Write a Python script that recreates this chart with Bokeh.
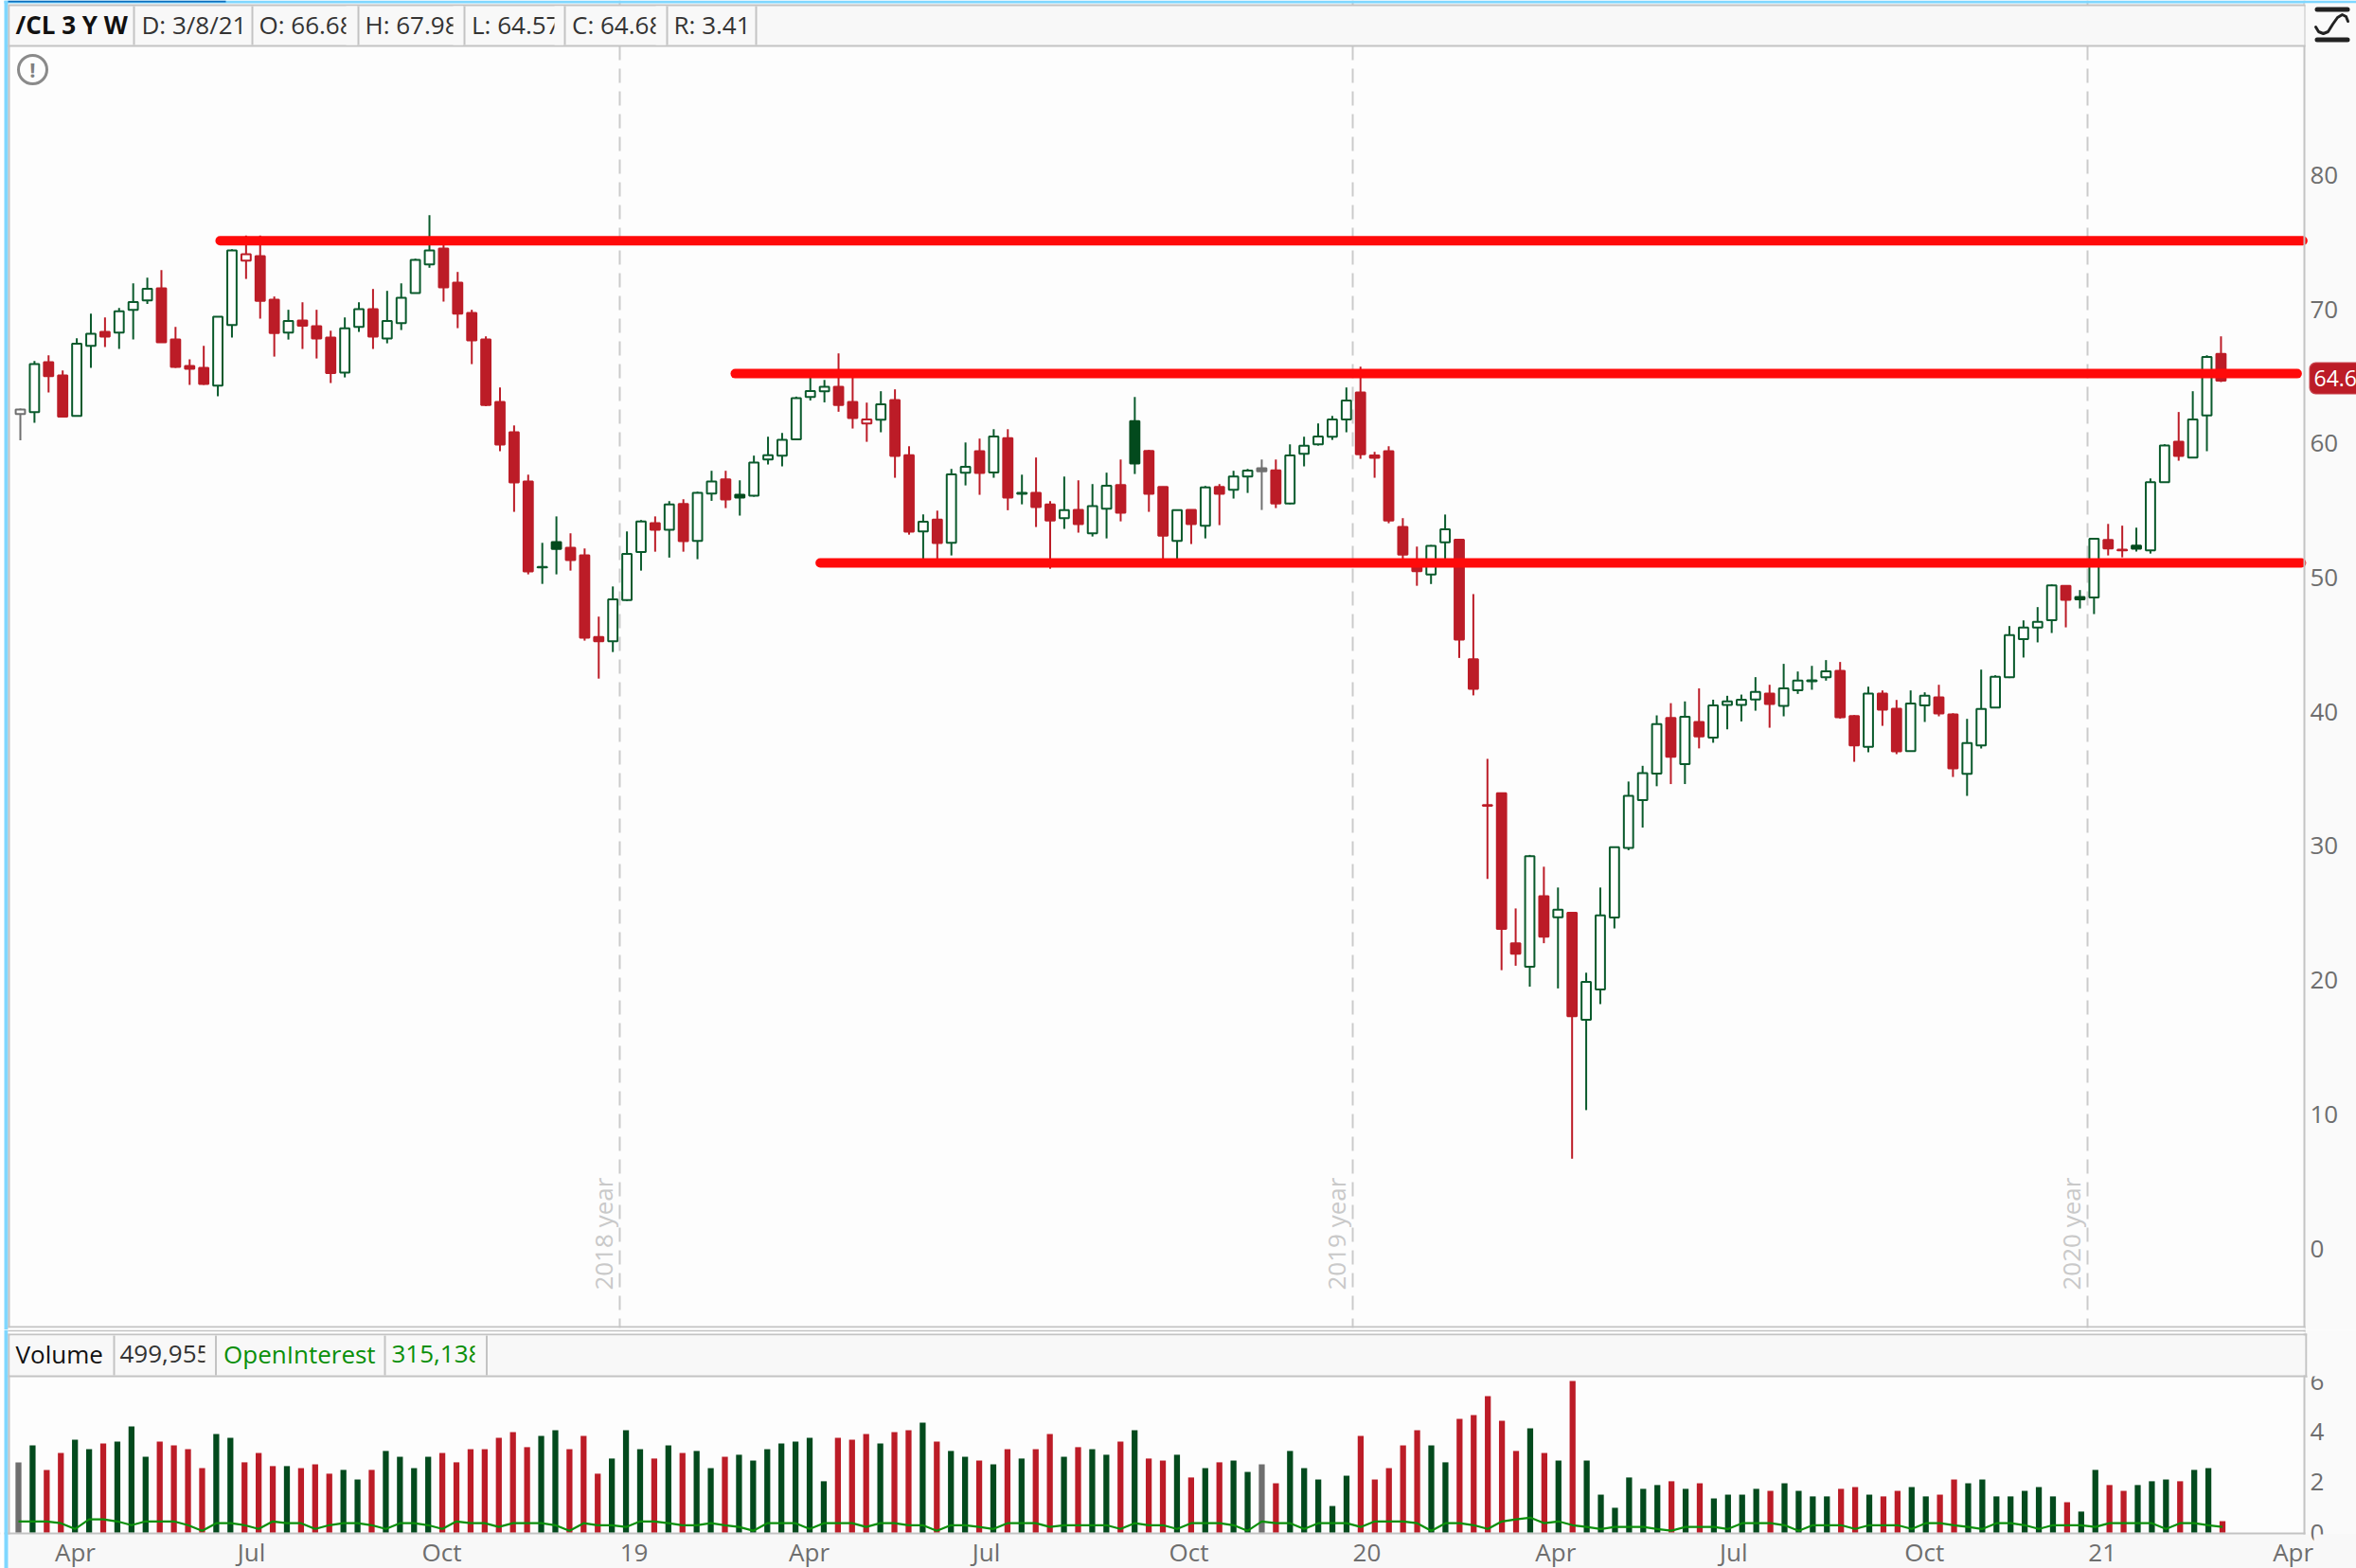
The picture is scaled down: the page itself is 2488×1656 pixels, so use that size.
from bokeh.plotting import figure
from bokeh.layouts import column
from bokeh.embed import file_html
from bokeh.resources import INLINE
from bokeh.models import (BoxAnnotation, ColumnDataSource, FixedTicker, Label, LinearAxis,
                          Range1d, Span)

# ---------- data (weekly /CL) ----------
high = [62.59,66.14,66.57,65.44,67.84,69.67,69.39,70.10,71.93,72.36,
        72.92,68.69,66.26,67.27,69.44,74.47,75.49,75.49,70.95,69.96,
        70.52,69.96,68.40,69.39,70.52,71.51,71.37,71.93,73.77,77.02,
        74.78,72.78,69.96,67.98,64.17,61.34,57.67,52.59,54.56,53.30,
        52.17,47.09,49.34,53.44,54.29,54.56,55.70,55.84,56.40,57.96,
        57.96,57.25,59.09,60.50,60.78,63.49,65.00,64.73,66.71,65.25,
        63.04,63.89,64.03,59.79,54.71,54.99,58.10,60.07,60.36,61.06,
        61.06,57.67,58.95,55.70,57.53,57.25,56.97,57.82,58.80,63.46,
        59.51,56.78,55.04,55.04,56.83,56.97,57.96,58.10,58.80,58.80,
        59.93,60.50,61.49,62.05,64.17,65.72,59.37,59.79,54.43,52.31,
        52.43,54.70,52.82,48.77,36.49,33.96,25.34,29.33,28.45,26.90,
        25.05,20.55,26.90,29.94,34.80,35.97,39.73,40.64,40.77,41.74,
        40.90,41.19,41.28,42.58,42.01,43.57,43.00,43.42,43.85,43.71,
        39.75,41.87,41.59,40.88,41.59,41.45,42.01,39.89,39.47,43.14,
        42.72,46.39,46.81,47.80,49.49,49.42,49.07,52.90,54.00,53.87,
        53.72,57.39,59.94,62.34,63.89,66.57,67.98]
body_top = [62.52,65.91,66.05,65.06,67.44,68.17,68.31,69.84,70.54,71.53,
            71.56,67.74,65.77,65.63,69.44,74.38,74.10,73.96,70.71,69.13,
            69.16,68.73,67.89,68.57,70.00,70.00,69.13,70.85,73.67,74.38,
            74.52,71.98,69.72,67.74,63.09,60.83,57.16,50.80,52.64,52.22,
            51.65,45.58,48.38,51.77,54.19,54.05,55.46,55.49,56.31,57.16,
            57.32,56.17,58.57,59.13,60.26,63.37,63.91,64.22,64.22,63.09,
            61.79,62.92,63.23,59.13,54.17,54.33,57.70,58.26,59.42,60.52,
            60.40,56.31,56.31,55.46,55.02,55.04,55.32,56.85,56.90,61.67,
            59.44,56.76,55.02,55.04,56.73,56.76,57.53,57.98,58.15,58.00,
            59.11,59.82,60.52,61.79,63.20,63.79,59.11,59.42,53.77,51.30,
            52.37,53.60,52.82,43.91,33.05,33.93,22.75,29.23,26.25,25.24,
            25.02,19.87,24.82,29.91,33.73,35.42,39.08,39.53,39.63,39.24,
            40.48,40.77,40.90,41.47,41.35,41.75,42.32,42.34,43.02,43.05,
            39.68,41.35,41.35,40.22,40.62,41.19,41.07,39.80,37.66,40.20,
            42.60,45.71,46.27,46.70,49.42,49.39,48.55,52.90,52.81,52.08,
            52.38,57.11,59.84,60.12,61.79,66.45,66.68]
body_bottom = [62.19,62.33,65.02,62.00,62.05,67.27,67.96,68.26,69.96,70.66,
               67.53,65.70,65.56,64.43,64.31,68.83,73.63,70.62,68.22,68.26,
               68.78,67.82,65.25,65.27,68.69,67.96,67.82,68.97,71.20,73.35,
               71.63,69.67,67.67,62.87,59.91,57.09,50.45,50.76,52.14,51.30,
               45.51,45.25,45.25,48.33,51.91,53.56,53.56,52.71,52.73,56.26,
               55.82,55.96,56.10,58.80,59.09,60.31,63.46,63.89,62.87,61.89,
               61.49,61.77,59.06,53.42,53.44,52.57,52.59,57.82,57.79,57.84,
               55.96,56.24,55.25,54.26,54.43,53.98,53.30,55.13,54.83,58.50,
               56.24,53.13,52.73,53.98,53.86,56.24,56.55,57.53,57.93,55.53,
               55.53,59.23,59.93,60.50,61.79,59.20,58.92,54.26,51.72,50.47,
               50.23,52.63,45.37,41.71,32.99,23.82,21.97,21.00,23.24,24.69,
               17.31,17.05,19.31,24.66,29.85,33.41,35.39,36.65,36.10,38.17,
               38.08,40.51,40.51,40.91,40.58,40.44,41.61,42.27,42.58,39.59,
               37.50,37.38,40.15,37.05,37.07,40.48,39.87,35.78,35.38,37.50,
               40.32,42.58,45.42,46.27,46.83,48.34,48.38,48.52,52.17,52.03,
               52.15,52.03,57.11,59.06,58.95,62.08,64.68]
low = [60.24,61.53,63.79,61.93,62.03,65.63,67.18,67.04,67.74,70.40,
       67.53,65.63,64.36,64.36,63.51,67.89,72.26,69.30,66.47,67.74,
       67.04,66.33,64.50,64.92,68.31,67.04,67.46,68.45,71.18,73.09,
       70.57,68.59,65.91,62.78,59.42,54.90,50.24,49.53,50.24,50.52,
       45.30,42.47,44.45,48.26,50.52,51.93,51.49,51.93,51.37,55.72,
       55.18,54.62,56.03,58.43,58.29,60.24,63.20,63.06,62.36,61.11,
       60.12,60.83,57.44,53.20,51.13,51.13,51.65,56.87,56.17,57.44,
       55.02,55.46,53.77,50.66,53.63,53.35,53.06,52.92,54.19,57.72,
       54.90,51.13,51.13,52.50,52.92,53.91,55.89,56.31,55.04,55.18,
       55.46,58.29,59.84,60.26,60.83,58.85,57.44,54.05,51.13,49.39,
       49.52,51.10,44.01,41.22,27.54,20.74,21.07,19.51,22.75,19.38,
       6.68,10.31,18.21,23.85,29.68,31.37,34.45,34.61,34.61,37.27,
       37.69,38.69,39.28,40.08,38.81,39.66,41.33,41.64,42.32,39.49,
       36.27,36.98,38.95,36.84,37.05,39.24,39.66,35.14,33.73,37.26,
       40.30,42.51,44.04,45.17,45.87,46.29,47.70,47.28,51.65,51.51,
       51.94,51.79,57.09,58.71,58.92,59.42,64.57]
direction = list("nudduuduuu" "dddduudddu" "ddduuduuuu" "ddddddduud" "dduuududuu"
                 "duuuuuuudd" "dudduduudu" "dudduduudu" "ddududuund" "uuuuuddddd"
                 "uudddddudu" "duuuuuudud" "uuuuduuuud" "dudduudduu" "uuuuuduudd" "uuuduud")
filled_up_bars = [38, 51, 79, 146, 150]      # close below open, but up on the week
hollow_down_bars = [16, 60]                  # close above open, but down on the week
hollow_flat_bars = [0]

volume = [2.79,3.46,2.49,3.16,3.69,3.31,3.54,3.61,4.21,3.01,
          3.61,3.46,3.31,2.56,3.91,3.76,2.79,3.16,2.64,2.64,
          2.56,2.71,2.34,2.49,2.11,2.49,3.24,3.01,2.56,3.01,
          3.16,2.79,3.31,3.31,3.76,3.99,3.39,3.84,4.06,3.31,
          3.84,2.34,2.94,4.06,3.31,2.94,3.46,3.16,3.24,2.56,
          3.01,3.09,2.86,3.31,3.54,3.61,3.76,2.04,3.76,3.69,
          3.91,3.54,3.99,4.06,4.36,3.61,3.24,3.01,2.86,2.71,
          3.31,2.94,3.31,3.91,3.01,3.39,3.31,3.09,3.61,4.06,
          2.94,2.86,3.09,2.19,2.56,2.79,2.86,2.41,2.71,1.96,
          3.24,2.56,2.11,1.06,2.26,3.84,2.11,2.56,3.46,4.06,
          3.46,2.79,4.51,4.66,5.41,4.44,3.24,4.14,3.16,2.86,
          6.01,2.86,1.51,0.99,2.19,1.74,1.89,2.04,1.74,1.96,
          1.36,1.51,1.51,1.74,1.66,1.96,1.66,1.44,1.44,1.74,
          1.81,1.51,1.44,1.66,1.81,1.44,1.51,2.11,1.96,2.11,
          1.44,1.44,1.66,1.81,1.44,1.21,0.84,2.49,1.89,1.66,
          1.89,2.04,2.11,2.04,2.49,2.56,0.46]
open_interest = [.45,.45,.45,.38,.15,.53,.53,.45,.30,.45,.45,.45,.30,.08,.38,.38,.30,.15,.45,.38,
                 .38,.15,.30,.38,.38,.30,.15,.38,.38,.30,.15,.45,.38,.38,.23,.38,.38,.38,.30,.08,
                 .38,.30,.30,.23,.45,.45,.38,.30,.30,.38,.30,.23,.08,.38,.38,
                 .38,.15,.38,.38,.38,.23,.38,.38,.30,.30,.08,.30,.30,.23,.15,.38,.38,.38,.23,.30,
                 .30,.30,.30,.15,.38,.30,.30,.15,.38,.38,.38,.30,.08,.45,.38,.38,.15,.38,.38,.38,
                 .23,.45,.45,.45,.38,.08,.38,.38,.30,.15,.45,.53,.60,.38,.45,.30,
                 .23,.15,.23,.23,.23,.15,.08,.23,.23,.23,.15,.38,.38,.38,.30,.08,.30,.30,.30,.15,
                 .30,.30,.30,.15,.38,.38,.30,.23,.15,.38,.38,.30,.15,.30,.30,.30,.23,.38,.38,.38,
                 .38,.15,.38,.38,.30,.23]

price_ticks = [0, 10, 20, 30, 40, 50, 60, 70, 80]
volume_ticks = [0, 2, 4, 6]
month_ticks = [4.02, 16.49, 29.96, 43.57, 55.97, 68.5, 82.84, 95.44, 108.8, 121.4, 134.9, 147.5, 161.0]
month_labels = ["Apr", "Jul", "Oct", "19", "Apr", "Jul", "Oct", "20", "Apr", "Jul", "Oct", "21", "Apr"]
year_breaks = [42.49, 94.45, 146.54]
year_labels = ["2018 year", "2019 year", "2020 year"]
level_prices = [75.1, 65.2, 51.09]
level_starts = [14.16, 50.68, 56.7]
level_ends = [161.8, 161.4, 161.7]
header_main = ["/CL 3 Y W", "D: 3/8/21", "O: 66.68", "H: 67.98", "L: 64.57", "C: 64.68", "R: 3.41"]
header_volume = ["Volume", "499,955", "OpenInterest", "315,138"]
last_close = "64.6"

# ---------- palette ----------
RED, GREEN, DARK, GRAY = "#bc1c27", "#0a5a2c", "#034a1d", "#707070"
BORDER, STRIP, PANEL, SKY = "#c3c3c3", "#f8f8f8", "#fdfdfd", "#7fd7ff"
SIDE = "#fafafa"
FONT = "Open Sans"
WIDTH, AXIS_X = 2488, 2433
H1, H2, AXIS_Y = 1404, 252, 1620
CANDLE_X0, CANDLE_DX = 21, 14.897
BAR_X0, BAR_DX = 19, 14.92

n = len(high)
idx = list(range(n))


def style_axis(ax):
    ax.axis_line_color = BORDER
    ax.axis_line_width = 2
    ax.major_tick_line_color = None
    ax.minor_tick_line_color = None
    ax.major_tick_in = 0
    ax.major_tick_out = 0
    ax.minor_tick_in = 0
    ax.minor_tick_out = 0
    ax.major_label_text_color = "#6e6e6e"
    ax.major_label_text_font = FONT
    ax.major_label_text_font_size = "26px"


def panel(height, x_range, y_range, top_px, bottom_px):
    p = figure(width=WIDTH, height=height, x_range=x_range, y_range=y_range,
               output_backend="svg", toolbar_location=None,
               x_axis_location=None, y_axis_location=None,
               background_fill_color=PANEL, border_fill_color=PANEL,
               min_border_left=0, min_border_top=0, min_border_right=0,
               min_border_bottom=0, outline_line_color=None)
    p.extra_x_ranges["px"] = Range1d(0, WIDTH)
    p.extra_y_ranges["py"] = Range1d(bottom_px, top_px)
    p.grid.visible = False
    return p


def box(p, l, r, t, b, color, level="annotation", radius=0):
    p.add_layout(BoxAnnotation(left=l, right=r, top=t, bottom=b, x_range_name="px", y_range_name="py",
                               fill_color=color, fill_alpha=1, line_color=None, level=level,
                               border_radius=radius))


def label(p, x, y, text, color="#333333", style="normal", level="annotation", size="26px",
          align="left"):
    p.add_layout(Label(x=x, y=y, text=text, x_range_name="px", y_range_name="py", text_color=color,
                       text_font=FONT, text_font_size=size, text_font_style=style,
                       text_align=align, text_baseline="middle", level=level))


# ---------- price panel ----------
p1 = panel(H1, Range1d(-CANDLE_X0 / CANDLE_DX, (WIDTH - CANDLE_X0) / CANDLE_DX),
           Range1d((1318 - H1) / 14.17, 1318 / 14.17), 0, H1)
box(p1, AXIS_X, WIDTH, 0, H1, SIDE, "underlay")
price_axis = LinearAxis(fixed_location=(AXIS_X - CANDLE_X0) / CANDLE_DX,
                        ticker=FixedTicker(ticks=price_ticks), major_label_standoff=6)
style_axis(price_axis)
p1.add_layout(price_axis, "right")

for b in year_breaks:
    p1.add_layout(Span(location=b, dimension="height", line_color="#cbcbcb", line_width=2,
                       line_dash="15 9", level="underlay"))


def tone_color(d):
    return {"u": GREEN, "d": RED, "n": GRAY}[d]


wick = [tone_color(d) for d in direction]
is_filled = []
for i, d in enumerate(direction):
    if d == "d":
        is_filled.append(i not in hollow_down_bars)
    elif d == "u":
        is_filled.append(i in filled_up_bars)
    else:
        is_filled.append(i not in hollow_flat_bars)
face = []
edge = []
for i, d in enumerate(direction):
    base = DARK if d == "u" and is_filled[i] else tone_color(d)
    edge.append(base)
    face.append(base if is_filled[i] else "#ffffff")

src = ColumnDataSource(dict(x=idx, high=high, low=low, top=body_top, bottom=body_bottom,
                            wick=wick, face=face, edge=edge))
p1.segment("x", "high", "x", "low", source=src, line_color="wick", line_width=2)
p1.vbar("x", width=0.66, top="top", bottom="bottom", source=src, fill_color="face",
        line_color="edge", line_width=2)

for price, s, e in zip(level_prices, level_starts, level_ends):
    p1.line([s, e], [price, price], line_color="#ff0a0a", line_width=10, line_cap="round")

for b, text in zip(year_breaks, year_labels):
    p1.add_layout(Label(x=b - 1.2, y=(1318 - 1362) / 14.17, text=text, text_color="#c9c9c9",
                        text_font=FONT, text_font_size="26px", angle=1.5708, angle_units="rad",
                        text_align="left", text_baseline="middle", level="underlay"))

# chrome of the price panel
box(p1, 0, 4, 0, H1, "#ffffff")
box(p1, 4, 8, 0, H1, SKY)
box(p1, 8, 10, 5, H1, BORDER)
box(p1, 4, WIDTH, 0, 3, SKY)
box(p1, 8, 238, 0, 2, "#0a6ebd")
box(p1, AXIS_X, WIDTH, 3, 5, SIDE)
box(p1, 10, AXIS_X, 5, 48, STRIP)
box(p1, 8, AXIS_X + 1, 4, 6, BORDER)
box(p1, 8, AXIS_X + 1, 47, 49, BORDER)
box(p1, 8, AXIS_X + 1, 1400, 1402, BORDER)
box(p1, 8, AXIS_X + 1, 1402, H1, "#ffffff")
for x in [140, 265, 377, 489, 595, 703, 797]:
    box(p1, x, x + 2, 6, 47, BORDER)
label(p1, 16, 25.5, header_main[0], "#111111", "bold")
for x, text in zip([149, 273, 385, 497.5, 603.5, 711], header_main[1:]):
    label(p1, x, 25.5, text)
for l, r in [(365, 376.5), (478, 488.5), (585, 594.5), (692, 702.5)]:
    box(p1, l, r, 6, 47, STRIP, "overlay")

# attention mark
p1.scatter([34], [73], x_range_name="px", y_range_name="py", size=30, marker="circle",
           fill_color="#fdfdfd", line_color="#8a8a8a", line_width=3)
label(p1, 34, 72, "!", "#808080", "bold", size="22px", align="center")

# top-right study icon
box(p1, 2444, 2481, 7, 12, "#222222", radius=3)
box(p1, 2444, 2481, 39, 44, "#222222", radius=3)
curve_x = [2445, 2448, 2453, 2458, 2463, 2468, 2473, 2477, 2479]
curve_y = [28, 33, 35, 33, 25, 18, 15, 17, 22]
p1.line(curve_x, curve_y, x_range_name="px", y_range_name="py", line_color="#222222",
        line_width=3, line_cap="round", line_join="round")

# last-price badge
box(p1, 2438, 2500, 382, 416, "#c8464f", radius=7)
box(p1, 2439, 2500, 383, 415, RED, radius=7)
label(p1, 2443, 399, last_close, "#ffffff", size="23px")

# ---------- volume panel ----------
p2 = panel(H2, Range1d(-BAR_X0 / BAR_DX, (WIDTH - BAR_X0) / BAR_DX),
           Range1d((1618.3 - (H1 + H2)) / 26.67, (1618.3 - H1) / 26.67), H1, H1 + H2)
box(p2, AXIS_X, WIDTH, H1, AXIS_Y, SIDE, "underlay")
box(p2, 8, WIDTH, AXIS_Y, H1 + H2, STRIP, "underlay")
volume_axis = LinearAxis(fixed_location=(AXIS_X - BAR_X0) / BAR_DX,
                         ticker=FixedTicker(ticks=volume_ticks), major_label_standoff=6,
                         bounds=((1618.3 - AXIS_Y) / 26.67, (1618.3 - H1) / 26.67))
style_axis(volume_axis)
p2.add_layout(volume_axis, "right")
month_axis = LinearAxis(fixed_location=(1618.3 - 1619) / 26.67,
                        ticker=FixedTicker(ticks=month_ticks), major_label_standoff=1,
                        major_label_overrides=dict(zip(month_ticks, month_labels)),
                        bounds=(-BAR_X0 / BAR_DX, (AXIS_X + 1 - BAR_X0) / BAR_DX))
style_axis(month_axis)
p2.add_layout(month_axis, "below")

bar_color = [{"u": DARK, "d": RED, "n": "#6e6e6e"}[d] for d in direction]
p2.vbar(x=idx, width=0.42, bottom=0, top=volume, fill_color=bar_color, line_color=None)
p2.line(idx, open_interest, line_color="#0b8f0b", line_width=2.2)

box(p2, 0, 4, H1, H1 + H2, "#ffffff")
box(p2, 4, 8, H1, H1 + H2, SKY)
box(p2, 8, 10, 1408, AXIS_Y, BORDER)
box(p2, 8, AXIS_X + 1, H1, 1406, BORDER)
box(p2, 8, AXIS_X + 1, 1406, 1408, "#ffffff")
box(p2, 8, AXIS_X + 3, 1408, 1410, BORDER)
box(p2, 10, AXIS_X + 1, 1410, 1452, STRIP)
box(p2, 8, AXIS_X + 3, 1452, 1454, BORDER)
box(p2, AXIS_X + 1, AXIS_X + 3, 1408, 1454, BORDER)
for x in [119, 226.5, 405, 512.5]:
    box(p2, x, x + 2, 1410, 1452, BORDER)
label(p2, 16, 1429.5, header_volume[0], "#111111")
label(p2, 126, 1429.5, header_volume[1])
label(p2, 235.5, 1429.5, header_volume[2], "#0a8f0a")
label(p2, 413, 1429.5, header_volume[3], "#0a8f0a")
box(p2, 216, 226, 1411, 1451, STRIP, "overlay")
box(p2, 501, 512, 1411, 1451, STRIP, "overlay")
# the reference's panel clips the top of its "6" and the foot of its "0"
box(p2, AXIS_X + 3, WIDTH, H1, 1453, SIDE, "overlay")
box(p2, 2443, WIDTH, AXIS_Y, H1 + H2, STRIP, "overlay")

page = column(p1, p2, spacing=0)
open("out.html", "w").write(file_html(page, INLINE))
